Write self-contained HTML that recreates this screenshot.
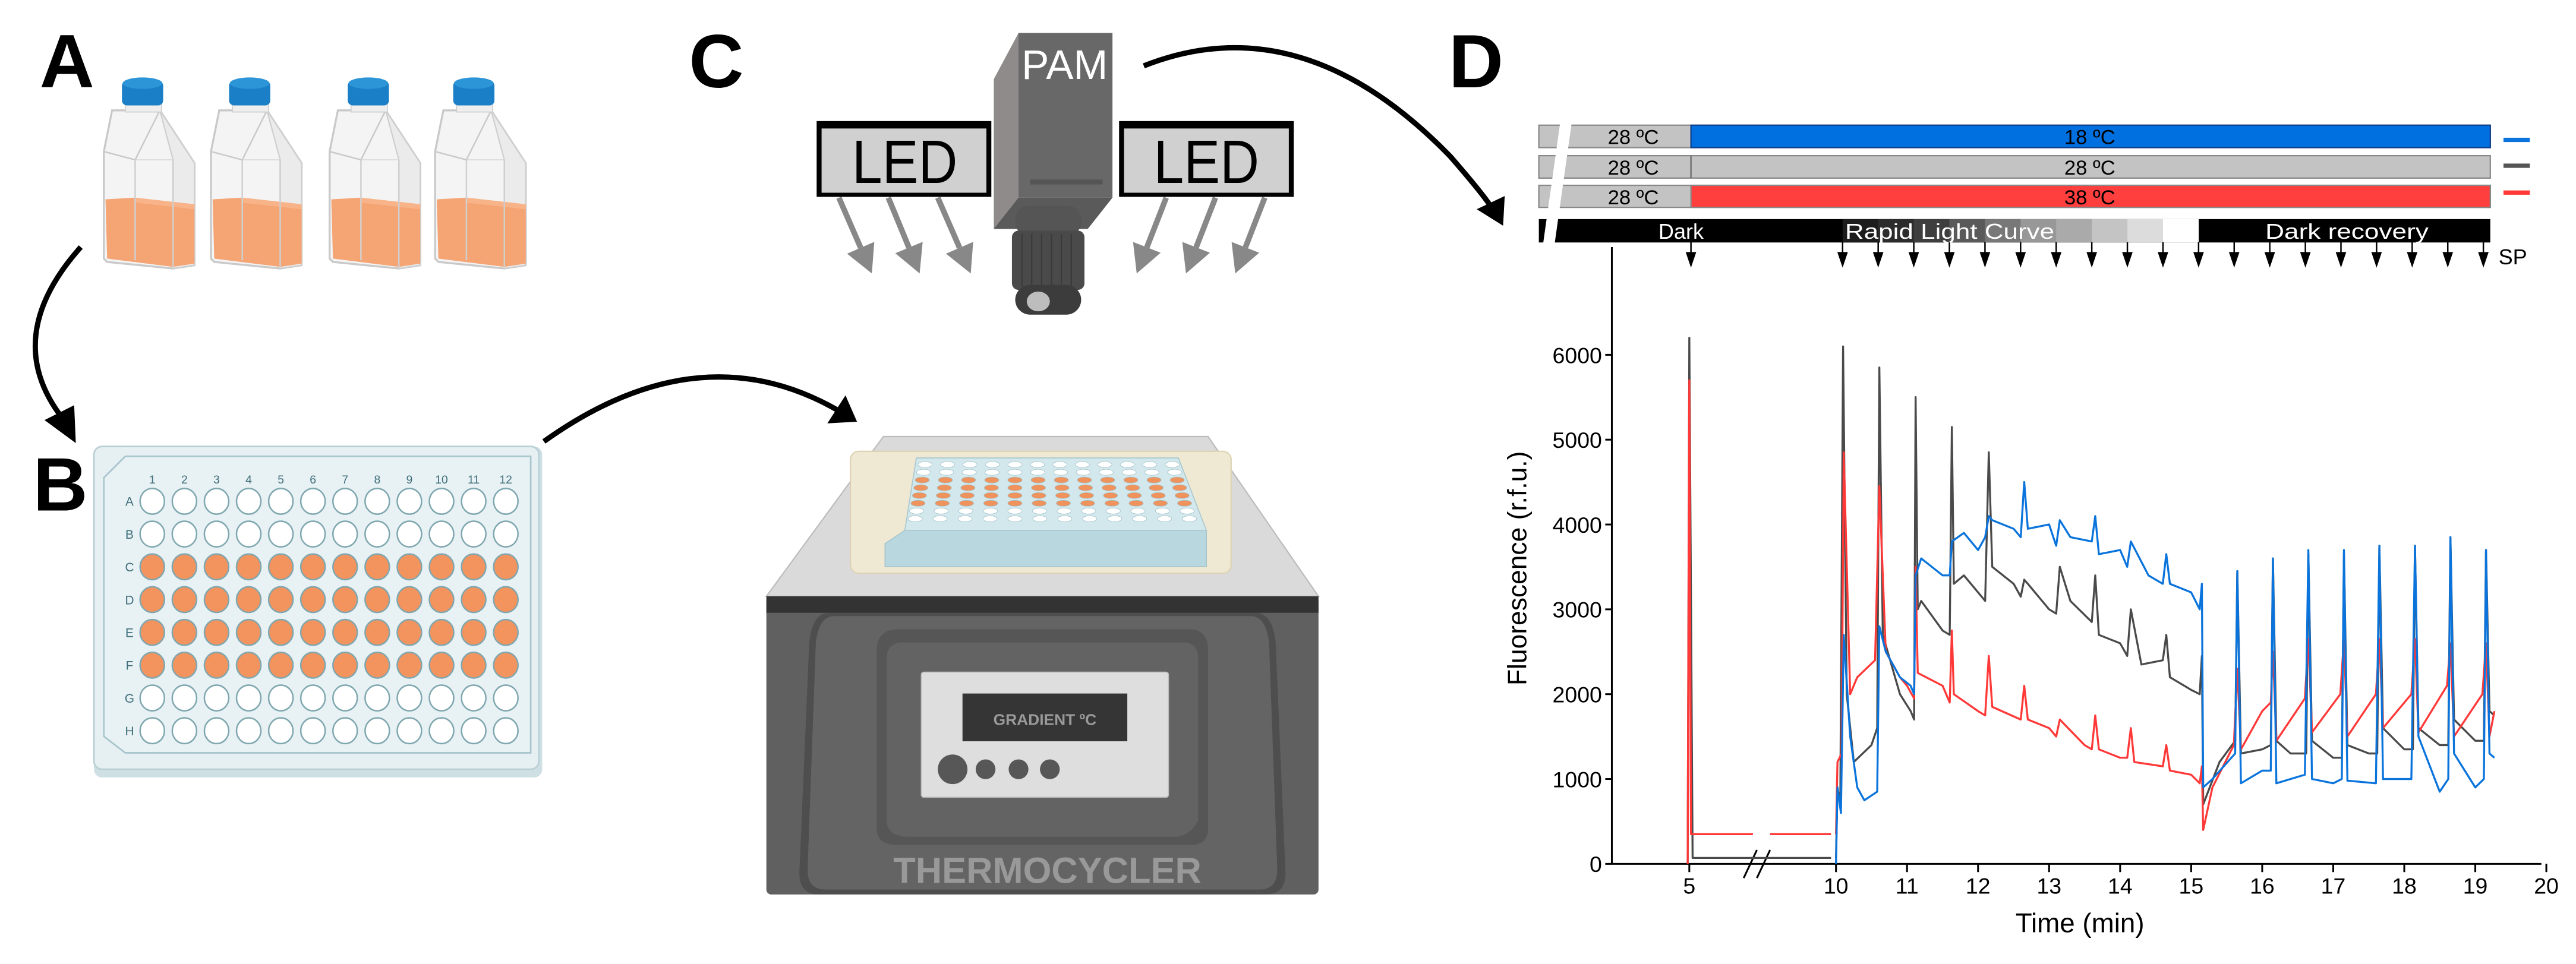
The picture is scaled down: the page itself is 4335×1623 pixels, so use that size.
<!DOCTYPE html>
<html><head><meta charset="utf-8"><style>
html,body{margin:0;padding:0;background:#fff;}
svg{display:block;}
text{font-family:"Liberation Sans",sans-serif;}
</style></head><body>
<svg id="s" width="4335" height="1623" viewBox="0 0 1563 585.2" preserveAspectRatio="none" xmlns="http://www.w3.org/2000/svg">
<defs>
<g id="flask">
  <polygon points="0,45 5,20 34,20 55,52 55,114 42,116 2,112 0,110" fill="#f4f4f4" stroke="#c9c9c9" stroke-width="1.2"/>
  <polygon points="34,20 55,52 55,114 42,116 42,50" fill="#ebebeb" stroke="#cfcfcf" stroke-width="0.8"/>
  <polygon points="1,74 19,73 55,77 55,113 42,115 2,110" fill="#f5a474"/>
  <polygon points="19,73 55,77 55,80 19,76" fill="#f8b488"/>
  <polyline points="0,45 19,50 34,20" fill="none" stroke="#c9c9c9" stroke-width="0.9"/>
  <line x1="19" y1="50" x2="19" y2="111" stroke="#d0d0d0" stroke-width="0.9"/>
  <line x1="19" y1="50" x2="42" y2="50" stroke="#d6d6d6" stroke-width="0.6"/>
  <line x1="42" y1="50" x2="42" y2="115" stroke="#cfcfcf" stroke-width="0.9"/>
  <rect x="13" y="16" width="22" height="5" fill="#eeeeee" stroke="#cccccc" stroke-width="0.6"/>
  <rect x="11" y="2" width="25" height="15" rx="3" fill="#1a7fc6"/>
  <ellipse cx="23.5" cy="3.5" rx="12" ry="3.5" fill="#2c95d8"/>
</g>
</defs>

<text x="24" y="53" font-size="46" font-weight="bold">A</text>
<text x="20" y="310" font-size="46" font-weight="bold">B</text>
<text x="418" y="53" font-size="46" font-weight="bold">C</text>
<text x="879" y="53" font-size="46" font-weight="bold">D</text>

<use href="#flask" x="63" y="47"/>
<use href="#flask" x="128" y="47"/>
<use href="#flask" x="200" y="47"/>
<use href="#flask" x="264" y="47"/>

<path d="M49,150 Q0,205 38,254" fill="none" stroke="#000" stroke-width="3.2"/>
<polygon points="46,269 27,255 45,246" fill="#000"/>

<rect x="57" y="271" width="272" height="201" rx="5" fill="#cfe0e4"/>
<rect x="57" y="271" width="270" height="196" rx="5" fill="#e6eff2" stroke="#b9d0d6" stroke-width="1"/>
<polygon points="76,277 322,277 322,457 76,457 63,447 63,290" fill="#e8f1f3" stroke="#a9c6cd" stroke-width="1"/>
<g id="plateB"></g>

<path d="M330,268 Q425,200 510,250" fill="none" stroke="#000" stroke-width="3.2"/>
<polygon points="520,256 502,257 513,240" fill="#000"/>

<polygon points="603,48 618,20 618,139 603,139" fill="#8f8b8b"/>
<rect x="618" y="20" width="57" height="100" fill="#686868"/>
<polygon points="603,139 618,120 675,120 660,139" fill="#5a5a5a"/>
<rect x="625" y="109" width="44" height="3" fill="#555"/>
<text x="646" y="48" font-size="25" fill="#fff" text-anchor="middle">PAM</text>
<rect x="616" y="125" width="40" height="18" rx="8" fill="#555"/>
<rect x="614" y="140" width="44" height="36" rx="4" fill="#4a4a4a"/>
<g stroke="#3a3a3a" stroke-width="0.8">
<line x1="620" y1="142" x2="620" y2="174"/><line x1="626" y1="142" x2="626" y2="174"/><line x1="632" y1="142" x2="632" y2="174"/><line x1="638" y1="142" x2="638" y2="174"/><line x1="644" y1="142" x2="644" y2="174"/><line x1="650" y1="142" x2="650" y2="174"/></g>
<rect x="616" y="173" width="40" height="18" rx="9" fill="#3c3c3c"/>
<ellipse cx="630" cy="183" rx="7" ry="6" fill="#bdbdbd"/>
<rect x="495.5" y="73.5" width="106" height="46" fill="#000"/>
<rect x="498.5" y="78" width="100" height="39" fill="#d0d0d0"/>
<text x="549" y="111" font-size="37" text-anchor="middle" textLength="64" lengthAdjust="spacingAndGlyphs">LED</text>
<rect x="679" y="73.5" width="106" height="46" fill="#000"/>
<rect x="682" y="78" width="100" height="39" fill="#d0d0d0"/>
<text x="732" y="111" font-size="37" text-anchor="middle" textLength="64" lengthAdjust="spacingAndGlyphs">LED</text>
<g id="ledarrows"></g>

<path d="M694,40 Q790,2 880,95 Q900,118 905,126" fill="none" stroke="#000" stroke-width="3.2"/>
<polygon points="912,137 896,127 913,119" fill="#000"/>

<polygon points="536,265 733,265 800,362 465,362" fill="#dadada" stroke="#bcbcbc" stroke-width="0.8"/>
<rect x="516" y="274" width="231" height="74" rx="5" fill="#efe9d3" stroke="#ddd3b4" stroke-width="0.8"/>
<polygon points="549,322 732,322 732,344 537,344 537,330" fill="#b9d7de" stroke="#a5c5cc" stroke-width="0.6"/>
<polygon points="556,278 715,278 732,322 549,322" fill="#d3e8ec" stroke="#a9c7ce" stroke-width="0.6"/>
<g id="plateC"></g>
<rect x="465" y="362" width="335" height="181" rx="3" fill="#606060"/>
<rect x="465" y="362" width="335" height="10" fill="#333"/>
<path d="M503,372 L762,372 Q772,372 774,390 L780,530 Q780,543 768,543 L497,543 Q485,543 485,530 L491,390 Q493,372 503,372 Z" fill="#4e4e4e"/>
<path d="M506,374 L759,374 Q768,374 770,390 L775,528 Q775,540 764,540 L501,540 Q490,540 490,528 L495,390 Q497,374 506,374 Z" fill="#646464"/>
<path d="M545,382 L722,382 Q733,382 733,395 L733,503 Q733,513 722,513 L545,513 Q532,513 532,503 L532,395 Q532,382 545,382 Z" fill="#565656"/>
<path d="M548,390 L718,390 Q727,390 727,400 L727,498 Q722,508 712,508 L552,508 Q538,508 538,498 L538,400 Q538,390 548,390 Z" fill="#636363"/>
<rect x="559" y="408" width="150" height="76" rx="1.5" fill="#dedede" stroke="#bcbcbc" stroke-width="0.6"/>
<rect x="584" y="421" width="100" height="29" fill="#353535"/>
<text x="634" y="440" font-size="9.5" font-weight="bold" fill="#9a9a9a" text-anchor="middle">GRADIENT ºC</text>
<circle cx="578" cy="467" r="9" fill="#575757"/>
<circle cx="598" cy="467" r="6" fill="#575757"/>
<circle cx="618" cy="467" r="6" fill="#575757"/>
<circle cx="637" cy="467" r="6" fill="#575757"/>
<text x="635.5" y="536" font-size="22" font-weight="bold" fill="#999" text-anchor="middle" textLength="187" lengthAdjust="spacingAndGlyphs">THERMOCYCLER</text>

<g font-size="12.5">
<g>
<rect x="933.7" y="76" width="577.3" height="13.6" fill="#c3c3c3" stroke="#888" stroke-width="0.8"/>
<rect x="1026" y="76" width="485" height="13.6" fill="#0070e0" stroke="#10408a" stroke-width="0.8"/>
<text x="991" y="87.5" text-anchor="middle">28 ºC</text>
<text x="1268" y="87.5" text-anchor="middle">18 ºC</text>
</g>
<g>
<rect x="933.7" y="94.5" width="577.3" height="13.6" fill="#c3c3c3" stroke="#888" stroke-width="0.8"/>
<line x1="1026" y1="94.5" x2="1026" y2="108.1" stroke="#666" stroke-width="0.8"/>
<text x="991" y="106" text-anchor="middle">28 ºC</text>
<text x="1268" y="106" text-anchor="middle">28 ºC</text>
</g>
<g>
<rect x="933.7" y="112.5" width="577.3" height="13.4" fill="#c3c3c3" stroke="#888" stroke-width="0.8"/>
<rect x="1026" y="112.5" width="485" height="13.4" fill="#ff3e3e" stroke="#888" stroke-width="0.8"/>
<text x="991" y="124" text-anchor="middle">28 ºC</text>
<text x="1268" y="124" text-anchor="middle">38 ºC</text>
</g>
</g>
<rect x="933.7" y="133" width="577.3" height="14.2" fill="#000"/>
<g id="rlc"></g>
<polygon points="947,72 954,72 943,150 936,150" fill="#fff"/>
<g font-size="13" fill="#fff">
<text x="1020" y="145" text-anchor="middle">Dark</text>
<text x="1183" y="145" text-anchor="middle" textLength="127" lengthAdjust="spacingAndGlyphs">Rapid Light Curve</text>
<text x="1424" y="145" text-anchor="middle" textLength="99" lengthAdjust="spacingAndGlyphs">Dark recovery</text>
</g>
<line x1="1519" y1="84.9" x2="1535" y2="84.9" stroke="#0a74dc" stroke-width="2.6"/>
<line x1="1519" y1="100.6" x2="1535" y2="100.6" stroke="#555" stroke-width="2.6"/>
<line x1="1519" y1="116.9" x2="1535" y2="116.9" stroke="#ff3838" stroke-width="2.6"/>
<g id="sparrows"></g>
<text x="1516" y="160.5" font-size="13">SP</text>

<g id="axes" stroke="#000" stroke-width="1.1" fill="none"></g>
<g id="curves" fill="none" stroke-width="1.2" stroke-linejoin="round"></g>
<text transform="translate(926,345) rotate(-90)" font-size="16" text-anchor="middle">Fluorescence (r.f.u.)</text>
<text x="1262" y="566" font-size="16.5" text-anchor="middle">Time (min)</text>
<g id="ticklabels" font-size="13.5"></g>
</svg>
<script>
var NS="http://www.w3.org/2000/svg";
function el(p,tag,attrs,txt){var e=document.createElementNS(NS,tag);for(var k in attrs)e.setAttribute(k,attrs[k]);if(txt!==undefined)e.textContent=txt;document.getElementById(p).appendChild(e);return e;}
(function(){
 var rows="ABCDEFGH";
 for(var c=0;c<12;c++){el("plateB","text",{x:92.4+c*19.5,y:293.5,"font-size":"7","fill":"#3e6e7a","text-anchor":"middle"},String(c+1));}
 for(var r=0;r<8;r++){
  el("plateB","text",{x:78.6,y:304.3+r*19.9+2.8,"font-size":"7.5","fill":"#3e6e7a","text-anchor":"middle"},rows[r]);
  for(var c=0;c<12;c++){
   var orange=(r>=2&&r<=5);
   el("plateB","ellipse",{cx:92.4+c*19.5,cy:304.3+r*19.9,rx:7.4,ry:7.8,fill:orange?"#f3935e":"#fff",stroke:"#7fa7b0","stroke-width":"0.9"});
  }
 }
})();
(function(){
 for(var r=0;r<8;r++){for(var c=0;c<12;c++){
  var y=282+r*4.7; var t=(y-278)/44; var x0=562-t*8, x1=710+t*14;
  var x=x0+c*(x1-x0)/11;
  el("plateC","ellipse",{cx:x,cy:y,rx:4.3,ry:1.8,fill:(r>=2&&r<=5)?"#f0925c":"#fff",stroke:"#a0c0c8","stroke-width":"0.3"});
 }}
})();
(function(){
 var arr=[[509,120,529,166],[539,120,558,166],[569,120,589,166],[707.6,120,689.7,166],[737.5,120,719.6,166],[767.4,120,749.5,166]];
 arr.forEach(function(a){
  var dx=a[2]-a[0],dy=a[3]-a[1],L=Math.sqrt(dx*dx+dy*dy),ux=dx/L,uy=dy/L,px=-uy,py=ux;
  var hl=17,hw=9;
  var bx=a[2]-ux*hl,by=a[3]-uy*hl;
  el("ledarrows","line",{x1:a[0],y1:a[1],x2:bx,y2:by,stroke:"#888","stroke-width":"3.4"});
  el("ledarrows","polygon",{points:a[2]+","+a[3]+" "+(bx+px*hw)+","+(by+py*hw)+" "+(bx-px*hw)+","+(by-py*hw),fill:"#888"});
 });
})();
(function(){
 var cols=["#1c1c1c","#2c2c2c","#3e3e3e","#5a5a5a","#787878","#989898","#aaaaaa","#c4c4c4","#dcdcdc","#ffffff"];
 for(var i=0;i<10;i++){el("rlc","rect",{x:1118+i*21.6,y:133,width:21.7,height:14.2,fill:cols[i]});}
})();
(function(){
 var xs=[1026];for(var i=0;i<19;i++)xs.push(1118+i*21.6);
 xs.forEach(function(x){
  el("sparrows","line",{x1:x,y1:147,x2:x,y2:156,stroke:"#000","stroke-width":"0.9"});
  el("sparrows","polygon",{points:(x-3.2)+",153 "+(x+3.2)+",153 "+x+",162.5",fill:"#000"});
 });
})();
var X0=978,Y0=524.4;
function X(t){return 1114+43.1*(t-10);}
function Y(v){return Y0-0.0515*v;}
(function(){
 el("axes","line",{x1:X0,y1:150,x2:X0,y2:Y0});
 el("axes","line",{x1:X0,y1:Y0,x2:1542,y2:Y0});
 for(var v=0;v<=6000;v+=1000){el("axes","line",{x1:X0-4,y1:Y(v),x2:X0,y2:Y(v)});
  el("ticklabels","text",{x:X0-6,y:Y(v)+5,"text-anchor":"end"},String(v));}
 var tx=[[5,1025]];for(var t=10;t<=20;t++)tx.push([t,X(t)]);
 tx.forEach(function(a){el("axes","line",{x1:a[1],y1:Y0,x2:a[1],y2:Y0+5});
  el("ticklabels","text",{x:a[1],y:Y0+18,"text-anchor":"middle"},String(a[0]));});
 el("axes","line",{x1:1058,y1:533,x2:1066,y2:516});
 el("axes","line",{x1:1066,y1:533,x2:1074,y2:516});
})();
function pts(arr){return arr.map(function(p){return X(p[0]).toFixed(1)+","+Y(p[1]).toFixed(1);}).join(" ");}
var gray=[[10,70],[10.02,900],[10.06,700],[10.1,6100],[10.15,2000],[10.25,1200],[10.5,1400],[10.58,1600],[10.61,5850],[10.66,2700],[10.9,2000],[11.05,1800],[11.1,1700],[11.12,5500],[11.15,3000],[11.2,3100],[11.5,2750],[11.6,2700],[11.63,5150],[11.66,3300],[11.8,3400],[12.0,3200],[12.1,3100],[12.15,4850],[12.2,3500],[12.5,3300],[12.6,3150],[12.65,3350],[12.7,3300],[13.0,3000],[13.1,2950],[13.15,3500],[13.3,3100],[13.6,2850],[13.65,3400],[13.7,2700],[14.0,2600],[14.1,2450],[14.15,3000],[14.3,2350],[14.6,2400],[14.65,2700],[14.7,2200],[15.0,2050],[15.12,2000],[15.15,2450],[15.17,700],[15.4,1200],[15.62,1450],[15.65,3450],[15.7,1300],[16.0,1350],[16.12,1400],[16.15,3600],[16.2,1450],[16.4,1300],[16.62,1300],[16.65,3650],[16.7,1450],[17.0,1250],[17.12,1250],[17.15,3650],[17.2,1400],[17.5,1300],[17.62,1300],[17.65,3750],[17.7,1600],[18.0,1350],[18.12,1350],[18.15,3750],[18.2,1600],[18.5,1400],[18.62,1400],[18.65,3850],[18.7,1700],[19.0,1450],[19.12,1450],[19.15,3700],[19.2,1800],[19.27,1750]];
var blue=[[10,0],[10.02,900],[10.07,600],[10.11,2700],[10.2,1500],[10.3,900],[10.4,750],[10.58,850],[10.61,2800],[10.7,2500],[10.9,2200],[11.05,2100],[11.1,2000],[11.12,3400],[11.2,3600],[11.5,3400],[11.6,3400],[11.63,3800],[11.8,3900],[12.0,3700],[12.1,3850],[12.15,4100],[12.2,4050],[12.5,3950],[12.6,3850],[12.65,4500],[12.7,3950],[13.0,4000],[13.1,3750],[13.15,4050],[13.3,3850],[13.6,3800],[13.65,4100],[13.7,3650],[14.0,3700],[14.1,3500],[14.15,3800],[14.4,3400],[14.6,3300],[14.65,3650],[14.7,3300],[15.0,3200],[15.12,3000],[15.15,3300],[15.17,900],[15.3,1000],[15.62,1300],[15.65,3450],[15.7,950],[16.0,1100],[16.12,1100],[16.15,3600],[16.2,950],[16.6,1050],[16.65,3700],[16.7,1000],[17.0,950],[17.12,1000],[17.15,3700],[17.2,980],[17.6,950],[17.65,3750],[17.7,1000],[18.1,1000],[18.15,3750],[18.2,1500],[18.5,850],[18.62,1000],[18.65,3850],[18.7,1300],[19.0,900],[19.12,1000],[19.15,3700],[19.2,1300],[19.27,1250]];
var red=[[10,350],[10.02,1200],[10.08,1300],[10.11,4850],[10.2,2000],[10.3,2200],[10.55,2400],[10.61,4450],[10.7,2500],[10.9,2200],[11.0,2100],[11.1,1950],[11.12,3500],[11.15,2250],[11.5,2100],[11.6,1900],[11.63,2750],[11.66,2000],[12.0,1800],[12.1,1750],[12.15,2450],[12.2,1850],[12.6,1700],[12.65,2100],[12.7,1700],[13.0,1600],[13.1,1500],[13.15,1700],[13.5,1400],[13.6,1350],[13.65,1750],[13.7,1350],[14.0,1250],[14.1,1250],[14.15,1600],[14.2,1200],[14.6,1150],[14.65,1400],[14.7,1100],[15.0,1050],[15.12,950],[15.15,1150],[15.17,400],[15.3,900],[15.6,1400],[15.65,2300],[15.7,1350],[16.0,1800],[16.12,1900],[16.15,2500],[16.2,1450],[16.6,1950],[16.65,2650],[16.7,1550],[17.1,2000],[17.15,2650],[17.2,1500],[17.6,2000],[17.65,2650],[17.7,1600],[18.1,2000],[18.15,2650],[18.2,1550],[18.6,2100],[18.65,2600],[18.7,1500],[19.1,2000],[19.15,2600],[19.2,1500],[19.27,1800]];
el("curves","polyline",{points:"1024,"+Y0+" 1025,"+Y(6200)+" 1027,"+Y(70)+" 1111,"+Y(70),stroke:"#4a4a4a"});
el("curves","polyline",{points:"1024,"+Y0+" 1025,"+Y(5700)+" 1026,"+Y(350)+" 1063.6,"+Y(350),stroke:"#ff3838"});
el("curves","line",{x1:1074,y1:Y(350),x2:1111,y2:Y(350),stroke:"#ff3838"});
el("curves","polyline",{points:pts(gray),stroke:"#4a4a4a"});
el("curves","polyline",{points:pts(red),stroke:"#ff3838"});
el("curves","polyline",{points:pts(blue),stroke:"#0a74dc"});
</script>
</body></html>
